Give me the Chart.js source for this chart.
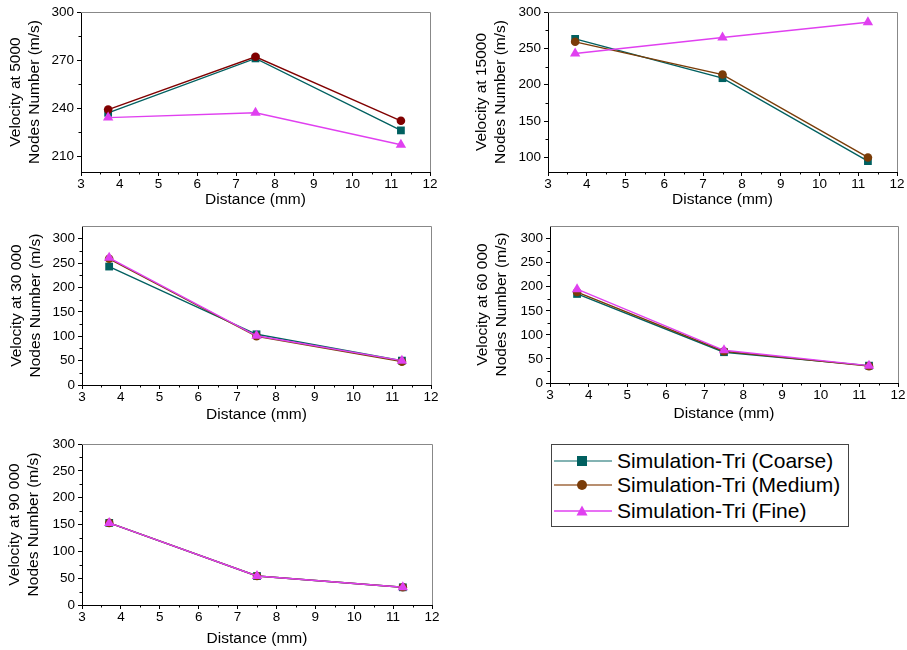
<!DOCTYPE html>
<html>
<head>
<meta charset="utf-8">
<script src="https://cdn.jsdelivr.net/npm/chart.js@4.4.1/dist/chart.umd.min.js"></script>
<style>
  body { margin: 0; background: #fff; width: 907px; height: 650px; position: relative; overflow: hidden;
         font-family: Arial, "Liberation Sans", sans-serif; }
  canvas { position: absolute; }
  #legend { position: absolute; left: 551px; top: 444px; width: 296px; height: 81px; border: 1px solid #444; }
  #legend .row { position: absolute; left: 0; height: 24px; width: 296px; }
  #legend svg { position: absolute; left: 2px; top: 6px; }
  #legend span { position: absolute; left: 65px; top: 0; font-size: 21px; line-height: 24px; color: #000; white-space: nowrap; }
</style>
</head>
<body>
<canvas id="c1" width="450" height="215" style="left:0;top:0"></canvas>
<canvas id="c2" width="452" height="215" style="left:455px;top:0"></canvas>
<canvas id="c3" width="450" height="215" style="left:0;top:215px"></canvas>
<canvas id="c4" width="452" height="213" style="left:455px;top:215px"></canvas>
<canvas id="c5" width="450" height="220" style="left:0;top:430px"></canvas>
<div id="legend"></div>

<script>
const distances = [3.7, 7.5, 11.25];
const xTicks = [3, 4, 5, 6, 7, 8, 9, 10, 11, 12];
const seriesNames = ['Simulation-Tri (Coarse)', 'Simulation-Tri (Medium)', 'Simulation-Tri (Fine)'];

// velocity (m/s) per mesh size
const coarse5000 = [237, 271, 226];
const medium5000 = [239, 272, 232];
const fine5000 = [234, 237, 217];

const coarse15000 = [263, 209, 95];
const medium15000 = [259, 214, 100];
const fine15000 = [243, 265, 286];

const coarse30000 = [243, 104, 50];
const medium30000 = [259, 100, 48];
const fine30000 = [261, 101, 50];

const coarse60000 = [185, 64, 36];
const medium60000 = [189, 66, 35];
const fine60000 = [195, 68, 36];

const coarse90000 = [153, 54, 33];
const medium90000 = [153, 54, 33];
const fine90000 = [153, 54, 33];

const yTicks5000 = [210, 240, 270, 300];
const yTicks15000 = [100, 150, 200, 250, 300];
const yTicksFull = [0, 50, 100, 150, 200, 250, 300];

const coarseColor = '#006060';
const mediumColor = '#7a3c08';
const fineColor = '#e040f0';

const framePlugin = {
    id: 'frame',
    afterDraw(chart) {
        const ctx = chart.ctx;
        const a = chart.chartArea;
        const xs = chart.scales.x, ys = chart.scales.y;
        ctx.save();
        // grey top / right edges
        ctx.strokeStyle = '#888';
        ctx.lineWidth = 1;
        ctx.beginPath();
        ctx.moveTo(Math.round(a.left), Math.round(a.top) + 0.5);
        ctx.lineTo(Math.round(a.right) + 0.5, Math.round(a.top) + 0.5);
        ctx.lineTo(Math.round(a.right) + 0.5, Math.round(a.bottom));
        ctx.stroke();
        // minor ticks halfway between the major ones
        ctx.strokeStyle = '#000';
        ctx.beginPath();
        for (let i = 0; i < xs.ticks.length - 1; i++) {
            const px = Math.round(xs.getPixelForValue((xs.ticks[i].value + xs.ticks[i + 1].value) / 2)) + 0.5;
            ctx.moveTo(px, a.bottom);
            ctx.lineTo(px, a.bottom + 2.5);
        }
        for (let i = 0; i < ys.ticks.length - 1; i++) {
            const py = Math.round(ys.getPixelForValue((ys.ticks[i].value + ys.ticks[i + 1].value) / 2)) + 0.5;
            ctx.moveTo(a.left, py);
            ctx.lineTo(a.left - 2.5, py);
        }
        ctx.stroke();
        ctx.restore();
    }
};

function series(name, values, color, style, radius, order) {
    return {
        label: name,
        data: values.map((v, i) => ({ x: distances[i], y: v })),
        borderColor: color,
        backgroundColor: color,
        borderWidth: 1.4,
        pointStyle: style,
        pointRadius: radius,
        pointBorderWidth: 0,
        order: order
    };
}

function makePanel(id, p) {
    new Chart(document.getElementById(id), {
        type: 'line',
        data: {
            datasets: [
                series(seriesNames[0], p.coarse, coarseColor, 'rect', 5.5, 3),
                series(seriesNames[1], p.medium, p.mediumColor || mediumColor, 'circle', 4.3, 2),
                series(seriesNames[2], p.fine, fineColor, 'triangle', 6, 1)
            ]
        },
        options: {
            responsive: false,
            animation: false,
            layout: { padding: { top: p.padTop, right: p.padRight, left: 0, bottom: 0 } },
            plugins: { legend: { display: false }, tooltip: { enabled: false } },
            scales: {
                x: {
                    type: 'linear', min: 3, max: 12,
                    afterBuildTicks: s => { s.ticks = xTicks.map(v => ({ value: v })); },
                    afterFit: s => { s.height = p.xHeight; },
                    grid: { drawOnChartArea: false, tickLength: 4, color: '#000' },
                    border: { color: '#000', width: 1 },
                    ticks: { color: '#000', font: { size: 13.5 }, padding: 0, maxRotation: 0, autoSkip: false },
                    title: { display: true, text: 'Distance (mm)', color: '#000',
                             font: { size: 15.5, lineHeight: 1.2 }, padding: { top: 0, bottom: p.xTitlePad } }
                },
                y: {
                    type: 'linear', min: p.yMin, max: p.yMax,
                    afterBuildTicks: s => { s.ticks = p.yTicks.map(v => ({ value: v })); },
                    afterFit: s => { s.width = p.yWidth; },
                    grid: { drawOnChartArea: false, tickLength: 4, color: '#000' },
                    border: { color: '#000', width: 1 },
                    ticks: { color: '#000', font: { size: 13.5 }, padding: 3 },
                    title: { display: true, text: ['Velocity at ' + p.nodes, 'Nodes Number (m/s)'], color: '#000',
                             font: { size: 15.5, lineHeight: 1.23 }, padding: { top: p.yTitlePad, bottom: 0 } }
                }
            }
        },
        plugins: [framePlugin]
    });
}

Chart.defaults.font.family = 'Arial, "Liberation Sans", sans-serif';

makePanel('c1', { nodes: '5000', coarse: coarse5000, medium: medium5000, fine: fine5000, mediumColor: '#800000',
    yMin: 200, yMax: 300, yTicks: yTicks5000,
    padTop: 12, padRight: 20, yWidth: 81, xHeight: 43, yTitlePad: 6.5, xTitlePad: 5.5 });

makePanel('c2', { nodes: '15000', coarse: coarse15000, medium: medium15000, fine: fine15000,
    yMin: 80, yMax: 300, yTicks: yTicks15000,
    padTop: 12, padRight: 10, yWidth: 93, xHeight: 43, yTitlePad: 17.5, xTitlePad: 5.5 });

makePanel('c3', { nodes: '30 000', coarse: coarse30000, medium: medium30000, fine: fine30000,
    yMin: 0, yMax: 326, yTicks: yTicksFull,
    padTop: 9, padRight: 19, yWidth: 82, xHeight: 45, yTitlePad: 7, xTitlePad: 5.5 });

makePanel('c4', { nodes: '60 000', coarse: coarse60000, medium: medium60000, fine: fine60000,
    yMin: 0, yMax: 326, yTicks: yTicksFull,
    padTop: 7, padRight: 9, yWidth: 95, xHeight: 45, yTitlePad: 17.8, xTitlePad: 5.2 });

makePanel('c5', { nodes: '90 000', coarse: coarse90000, medium: medium90000, fine: fine90000,
    yMin: 0, yMax: 300, yTicks: yTicksFull,
    padTop: 14, padRight: 18, yWidth: 82, xHeight: 45, yTitlePad: 5.5, xTitlePad: 1.5 });

// legend box
const legend = document.getElementById('legend');
const legendMarks = [
    `<rect x="23" y="1" width="10" height="10" fill="${coarseColor}"/>`,
    `<circle cx="28" cy="6" r="5" fill="${mediumColor}"/>`,
    `<polygon points="28,0.5 33.5,10.5 22.5,10.5" fill="${fineColor}"/>`
];
const legendLines = ['#5a9a9a', '#a06a40', fineColor];
const rowTops = [4, 28, 54];
seriesNames.forEach((name, i) => {
    const row = document.createElement('div');
    row.className = 'row';
    row.style.top = rowTops[i] + 'px';
    row.innerHTML = `<svg width="58" height="12"><line x1="0" y1="6" x2="58" y2="6" stroke="${legendLines[i]}" stroke-width="1.5"/>${legendMarks[i]}</svg><span>${name}</span>`;
    legend.appendChild(row);
});
</script>
</body>
</html>
